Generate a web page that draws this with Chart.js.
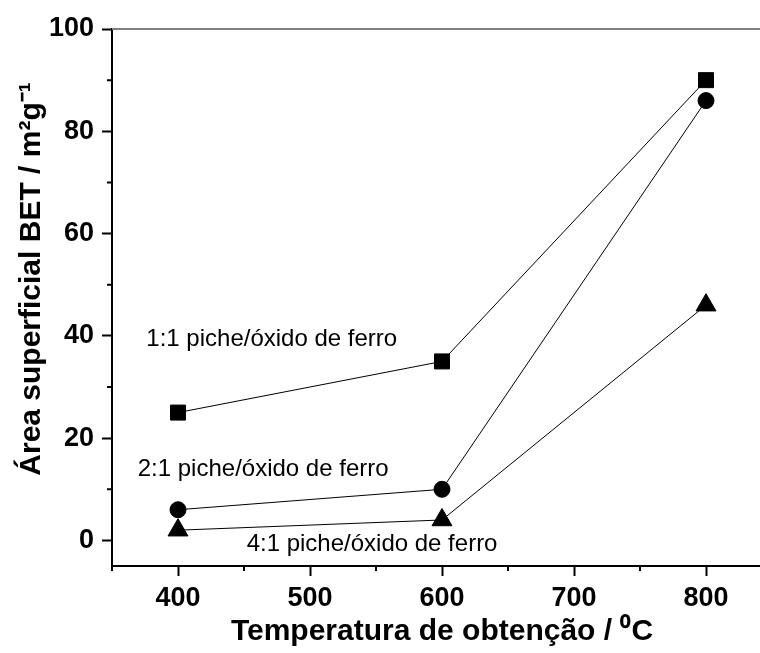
<!DOCTYPE html>
<html>
<head>
<meta charset="utf-8">
<script src="https://cdn.jsdelivr.net/npm/chart.js@4"></script>
<style>
html, body { margin: 0; padding: 0; overflow: hidden; background: #fff; }
#wrap { width: 800px; height: 653px; }
</style>
</head>
<body>
<div id="wrap"><canvas id="betChart" width="800" height="653"></canvas></div>
<script>
// data
const temperatures = [400, 600, 800];
const area11 = [25, 35, 90];   // 1:1 piche/oxido
const area21 = [6, 10, 86];    // 2:1
const area41 = [2, 4, 46];     // 4:1
const seriesLabels = ['1:1 piche/óxido de ferro', '2:1 piche/óxido de ferro', '4:1 piche/óxido de ferro'];
const xTicks = [400, 500, 600, 700, 800];
const xMinor = [350, 450, 550, 650, 750, 850];
const yTicks = [0, 20, 40, 60, 80, 100];
const yMinor = [10, 30, 50, 70, 90];
const yTitle = 'Área superficial BET / m²g⁻¹';

const FONT = 'Liberation Sans, Arial, sans-serif';
const toPoints = arr => temperatures.map((t, i) => ({ x: t, y: arr[i] }));

function series(values, style, radius) {
    return {
        data: toPoints(values),
        showLine: true,
        borderColor: '#000',
        borderWidth: 1,
        pointStyle: style,
        pointRadius: radius,
        pointBackgroundColor: '#000',
        pointBorderColor: '#000',
        pointBorderWidth: 1
    };
}

// text labels placed in data units next to each curve
const curveLabels = [
    { text: seriesLabels[0], x: 376, y: 39.4 },
    { text: seriesLabels[1], x: 369.5, y: 13.9 },
    { text: seriesLabels[2], x: 452, y: -0.8 }
];

const extras = {
    id: 'extras',
    afterDraw(chart) {
        const { ctx, chartArea, scales } = chart;
        ctx.save();
        // top frame line
        ctx.strokeStyle = '#808080';
        ctx.lineWidth = 2;
        ctx.beginPath();
        ctx.moveTo(chartArea.left, chartArea.top);
        ctx.lineTo(chartArea.right, chartArea.top);
        ctx.stroke();
        // minor ticks
        ctx.strokeStyle = '#000';
        ctx.beginPath();
        yMinor.forEach(v => {
            const y = scales.y.getPixelForValue(v);
            ctx.moveTo(chartArea.left - 5, y);
            ctx.lineTo(chartArea.left, y);
        });
        xMinor.forEach(v => {
            const x = scales.x.getPixelForValue(v);
            ctx.moveTo(x, chartArea.bottom);
            ctx.lineTo(x, chartArea.bottom + 5);
        });
        ctx.stroke();
        // curve labels
        ctx.fillStyle = '#000';
        ctx.font = '24px ' + FONT;
        ctx.textAlign = 'left';
        ctx.textBaseline = 'middle';
        curveLabels.forEach(l => {
            ctx.fillText(l.text, scales.x.getPixelForValue(l.x), scales.y.getPixelForValue(l.y));
        });
        // y axis title (sits a bit above the axis centre in the original)
        ctx.translate(32, chartArea.top + 250);
        ctx.rotate(-Math.PI / 2);
        ctx.textAlign = 'center';
        ctx.font = 'bold 30px ' + FONT;
        ctx.fillText(yTitle, 0, 0);
        ctx.restore();
    }
};

new Chart(document.getElementById('betChart'), {
    type: 'line',
    data: {
        datasets: [
            series(area11, 'rect', 10.6),
            series(area21, 'circle', 8),
            series(area41, 'triangle', 11.5)
        ]
    },
    options: {
        responsive: false,
        animation: false,
        layout: { padding: { top: 29, right: 28, bottom: 0, left: 0 } },
        plugins: { legend: { display: false }, tooltip: { enabled: false } },
        scales: {
            x: {
                type: 'linear',
                min: 350,
                max: 850,
                afterBuildTicks: axis => { axis.ticks = xTicks.map(v => ({ value: v })); },
                afterFit: scale => { scale.height = 87; },
                grid: { drawOnChartArea: false, tickLength: 10, tickWidth: 2, tickColor: '#000' },
                border: { color: '#000', width: 2 },
                ticks: { color: '#000', padding: 6, maxRotation: 0, font: { family: FONT, size: 27, weight: 'bold' } },
                title: {
                    display: true,
                    text: 'Temperatura de obtenção / ⁰C',
                    color: '#000',
                    padding: { top: 0, bottom: 3 },
                    font: { family: FONT, size: 30, weight: 'bold' }
                }
            },
            y: {
                type: 'linear',
                min: -5,
                max: 100,
                afterBuildTicks: axis => { axis.ticks = yTicks.map(v => ({ value: v })); },
                afterFit: scale => { scale.width = 112; },
                grid: { drawOnChartArea: false, tickLength: 10, tickWidth: 2, tickColor: '#000' },
                border: { color: '#000', width: 2 },
                ticks: { color: '#000', padding: 8, font: { family: FONT, size: 27, weight: 'bold' } }
            }
        }
    },
    plugins: [extras]
});
</script>
</body>
</html>
